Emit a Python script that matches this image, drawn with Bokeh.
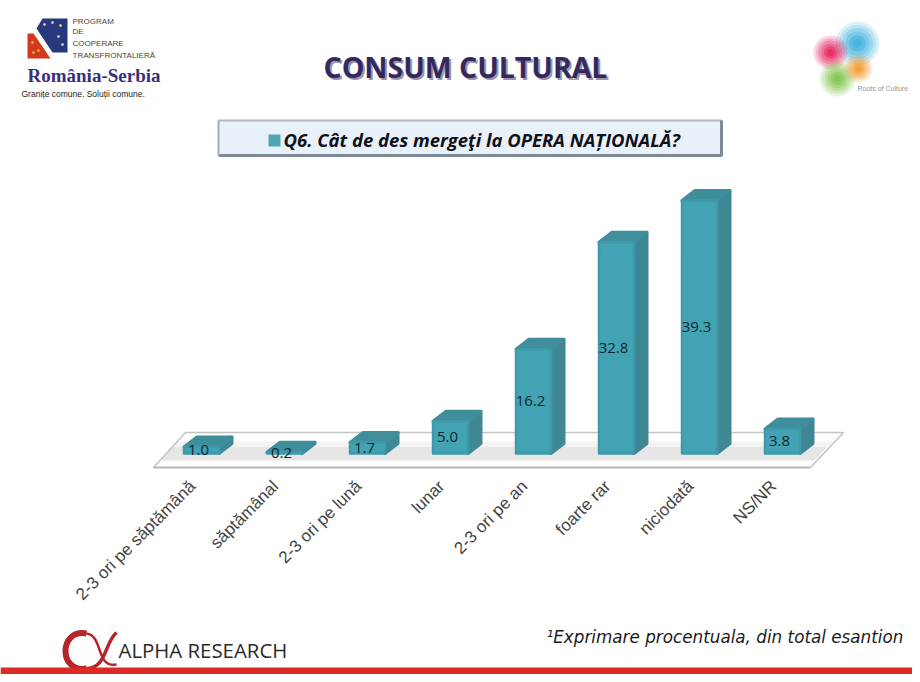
from bokeh.plotting import figure
from bokeh.models import Range1d, FixedTicker
from bokeh.core.properties import value
from bokeh.embed import file_html
from bokeh.resources import INLINE
import math

# ---- chart data ----
categories = ["2-3 ori pe săptămână", "săptămânal", "2-3 ori pe lună", "lunar",
              "2-3 ori pe an", "foarte rar", "niciodată", "NS/NR"]
values = [1.0, 0.2, 1.7, 5.0, 16.2, 32.8, 39.3, 3.8]
value_labels = ["1.0", "0.2", "1.7", "5.0", "16.2", "32.8", "39.3", "3.8"]

TITLE = "CONSUM CULTURAL"
QUESTION = "Q6. Cât de des mergeţi la OPERA NAȚIONALĂ?"
NOTE = "¹Exprimare procentuala, din total esantion"

W, H = 912, 674
X0, DX = 201, 83    # pixel of first category, pixels per category
Y0, DY = 453, 6.44  # pixel of the value 0, pixels per unit
TICK_SHIFT = 9      # tick labels sit left of the bars, in pixels

p = figure(width=W, height=H, output_backend="svg", toolbar_location=None,
           x_range=Range1d(-X0 / DX, (W - X0) / DX),
           y_range=Range1d((Y0 - H) / DY, Y0 / DY),
           min_border=0, min_border_left=0, min_border_right=0,
           min_border_top=0, min_border_bottom=0,
           outline_line_color=None, background_fill_color="white",
           border_fill_color="white")
p.grid.visible = False
p.yaxis.visible = False

# pixel space for the slide furniture
p.extra_x_ranges["px"] = Range1d(0, W)
p.extra_y_ranges["px"] = Range1d(H, 0)
p.extra_x_ranges["ticks"] = Range1d((TICK_SHIFT - X0) / DX, (W + TICK_SHIFT - X0) / DX)
PX = dict(x_range_name="px", y_range_name="px")

def poly(xs, ys, color, line=None, lw=1, alpha=1.0):
    p.patch(xs, ys, fill_color=color, fill_alpha=alpha,
            line_color=line, line_width=lw, **PX)

def label(x, y, s, size, color="#222222", font="Open Sans", style="normal",
          align="left", baseline="middle", alpha=1.0):
    p.text([x], [y], text=[s], text_font=value(font), text_font_size=f"{size}px",
           text_font_style=style, text_color=color, text_align=align,
           text_baseline=baseline, text_alpha=alpha, **PX)

# ---- floor ----
poly([185, 843, 810, 153], [432, 432, 467, 467], "#FFFFFF")
poly([172, 827, 814, 160], [446, 446, 460, 460], "#E6E6E6")
poly([178, 835, 827, 172], [441, 441, 446, 446], "#F3F3F3")
p.line([153, 185, 843, 810], [467, 432, 432, 467], line_color="#C4C4C4", line_width=1.5, **PX)
p.line([153, 810], [467, 467], line_color="#B5B5B5", line_width=2, **PX)

# ---- bars ----
half = 17.5 / DX
dx = 13 / DX
dy = 10 / DY
for i, v in enumerate(values):
    r = i + half
    l = i - half
    p.patch([r, r + dx, r + dx, r], [0, dy, v + dy, v],
            fill_color="#3F8795", line_color="#3F8795", line_width=3, line_join="round")
    p.patch([l, l + dx, r + dx, r], [v, v + dy, v + dy, v],
            fill_color="#3F8E9C", line_color="#3F8E9C", line_width=3, line_join="round")
p.vbar(x=list(range(len(values))), top=values, bottom=0, width=2 * half,
       fill_color="#42A3B4", line_color="#3E9AAB", line_width=2.5, line_join="round")

# value labels, centred on each bar
p.text(x=[i - 3 / DX for i in range(len(values))], y=[v / 2 for v in values], text=value_labels,
       text_font=value("Open Sans"), text_font_size="15px", text_color="#12282E",
       text_align="center", text_baseline="middle")

# ---- category axis ----
ax = p.xaxis[0]
ax.x_range_name = "ticks"
ax.ticker = FixedTicker(ticks=list(range(len(categories))))
ax.major_label_overrides = {i: c for i, c in enumerate(categories)}
ax.fixed_location = 0
ax.axis_line_color = None
ax.major_tick_line_color = None
ax.minor_tick_line_color = None
ax.major_label_orientation = math.pi / 4
ax.major_label_standoff = 24
ax.major_label_text_font = "Liberation Sans"
ax.major_label_text_font_size = "17px"
ax.major_label_text_color = "#444444"

# ---- heading ----
label(325, 68, TITLE, 28.5, color="#9A96A8", style="bold")
label(323, 66, TITLE, 28.5, color="#35285F", style="bold")

# question box
poly([218, 721, 721, 218], [120, 120, 155, 155], "#E8F1FA")
p.line([218, 721, 721], [120, 120, 155], line_color="#B0BAC4", line_width=2, **PX)
p.line([721, 721, 218], [120, 155, 155], line_color="#7E8B96", line_width=3, **PX)
p.line([218, 218], [120, 155], line_color="#A3AEB8", line_width=2, **PX)
poly([268, 280, 280, 268], [134, 134, 146, 146], "#4FA5B2")
label(283, 139, QUESTION, 18.5, color="#101018", style="bold italic")

# ---- left logo ----
poly([36, 42, 67, 67, 52], [28, 18, 18, 52, 52], "#25397C")
poly([27, 33, 50, 27], [33, 33, 58, 58], "#D23A1E")
p.scatter([44, 52, 60, 58, 62], [24, 22, 25, 36, 44], size=2, color="#D9D48A", **PX)
p.scatter([32, 38, 33], [42, 50, 52], size=2, color="#F0B030", **PX)
for t, yy in zip(["PROGRAM", "DE", "COOPERARE", "TRANSFRONTALIERĂ"], [21, 31, 43, 55]):
    label(72, yy, t, 8, color="#444444", font="Liberation Sans")
label(27, 75, "România-Serbia", 19, color="#3A2F7C", font="Liberation Serif", style="bold")
label(21, 93, "Granițe comune. Soluții comune.", 8.5, color="#222222", font="Liberation Sans")

# ---- right logo ----
def blob(cx, cy, r, color):
    for f, a in [(1.0, .18), (.85, .2), (.7, .25), (.55, .3), (.38, .45), (.2, .6)]:
        p.circle([cx], [cy], radius=r * f, fill_color=color, fill_alpha=a, line_color=None,
                 radius_units="screen", **PX)
blob(857, 43, 22, "#38AEDC")
blob(830, 52, 17, "#E8205E")
blob(837, 78, 18, "#7FC24A")
blob(858, 68, 14, "#F39A2E")
label(857, 88, "Roots of Culture", 7, color="#8A9A9A", font="Liberation Sans")

# ---- footer: alpha mark ----
p.bezier(x0=[86], y0=[633], x1=[86], y1=[668], cx0=[58], cy0=[628], cx1=[58], cy1=[673],
         line_color="#B4262A", line_width=6, **PX)
p.bezier(x0=[86], y0=[633], x1=[116], y1=[664], cx0=[103], cy0=[635], cx1=[95], cy1=[668],
         line_color="#B4262A", line_width=2.5, **PX)
p.bezier(x0=[116], y0=[632], x1=[86], y1=[668], cx0=[104], cy0=[642], cx1=[106], cy1=[668],
         line_color="#B4262A", line_width=3.5, **PX)
label(118, 649, "ALPHA RESEARCH", 20.4, color="#2A2A2A")
label(546, 636, NOTE, 16.8, color="#1A1A1A", font="DejaVu Sans", style="italic")
poly([0, 912, 912, 0], [667, 667, 674, 674], "#DC2B25")

open("out.html", "w").write(file_html(p, INLINE))
